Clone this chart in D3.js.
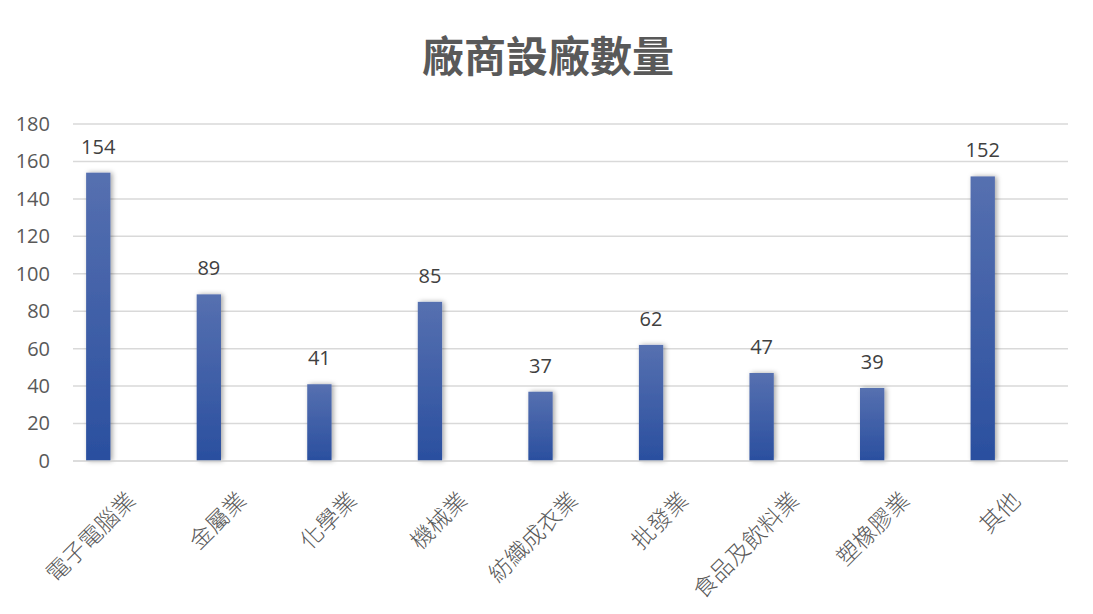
<!DOCTYPE html>
<html>
<head>
<meta charset="utf-8">
<script src="https://cdn.jsdelivr.net/npm/d3@7"></script>
<style>
  body { margin: 0; background: #fff; }
  svg text { font-family: "Open Sans", "Noto Sans CJK TC", sans-serif; }
</style>
</head>
<body>
<script>
// 資料
const industries = ['電子電腦業', '金屬業', '化學業', '機械業', '紡織成衣業', '批發業', '食品及飲料業', '塑橡膠業', '其他'];
const plantCounts = [154, 89, 41, 85, 37, 62, 47, 39, 152];
const yTicks = [0, 20, 40, 60, 80, 100, 120, 140, 160, 180];
const chartTitle = '廠商設廠數量';

const width = 1093, height = 614;
const gridLeft = 73, gridRight = 1068;
const plotTop = 124, plotBottom = 461;

const svg = d3.select('body').append('svg')
  .attr('width', width)
  .attr('height', height);

// 漸層與陰影
const defs = svg.append('defs');
const grad = defs.append('linearGradient')
  .attr('id', 'barGrad')
  .attr('x1', 0).attr('y1', 0).attr('x2', 0).attr('y2', 1);
grad.append('stop').attr('offset', '0%').attr('stop-color', '#5670b0');
grad.append('stop').attr('offset', '100%').attr('stop-color', '#2a4f9f');

const shadow = defs.append('filter')
  .attr('id', 'barShadow')
  .attr('x', '-50%').attr('y', '-10%').attr('width', '200%').attr('height', '120%');
shadow.append('feDropShadow')
  .attr('dx', 2).attr('dy', 0).attr('stdDeviation', 2.5)
  .attr('flood-color', '#000').attr('flood-opacity', 0.35);

// 比例尺
const x = d3.scaleBand()
  .domain(industries)
  .range([43, 1038])
  .paddingInner(0.78)
  .paddingOuter(0.39);

const y = d3.scaleLinear()
  .domain([0, 180])
  .range([plotBottom, plotTop]);

// 標題
svg.append('text')
  .attr('x', 548)
  .attr('y', 72)
  .attr('text-anchor', 'middle')
  .attr('font-size', 42)
  .attr('font-weight', 'bold')
  .attr('fill', '#595959')
  .style('font-family', '"Noto Sans CJK TC", sans-serif')
  .text(chartTitle);

// 格線
svg.append('g')
  .selectAll('line')
  .data(yTicks.filter(d => d > 0))
  .enter()
  .append('line')
  .attr('x1', gridLeft).attr('x2', gridRight)
  .attr('y1', d => y(d)).attr('y2', d => y(d))
  .attr('stroke', '#d9d9d9')
  .attr('stroke-width', 1.5);

// y 軸
const yAxis = d3.axisLeft(y).tickValues(yTicks).tickSize(0).tickPadding(0);
const yA = svg.append('g')
  .attr('transform', 'translate(50,0)')
  .call(yAxis);
yA.select('.domain').remove();
yA.selectAll('text')
  .attr('font-size', 20)
  .attr('fill', '#595959')
  .style('font-family', '"Open Sans", sans-serif');

// 柱子
svg.append('g')
  .selectAll('rect')
  .data(plantCounts)
  .enter()
  .append('rect')
  .attr('x', (d, i) => x(industries[i]))
  .attr('y', d => y(d))
  .attr('width', x.bandwidth())
  .attr('height', d => y(0) - y(d))
  .attr('fill', 'url(#barGrad)')
  .attr('filter', 'url(#barShadow)');

// x 軸底線
svg.append('line')
  .attr('x1', gridLeft).attr('x2', gridRight)
  .attr('y1', y(0)).attr('y2', y(0))
  .attr('stroke', '#d0d0d0')
  .attr('stroke-width', 1.5);

// 數值標籤
svg.append('g')
  .selectAll('text')
  .data(plantCounts)
  .enter()
  .append('text')
  .attr('x', (d, i) => x(industries[i]) + x.bandwidth() / 2)
  .attr('y', d => y(d) - 19)
  .attr('text-anchor', 'middle')
  .attr('font-size', 20)
  .attr('fill', '#404040')
  .text(d => d);

// x 軸標籤
const xAxis = d3.axisBottom(x).tickSize(0).tickPadding(0);
const xA = svg.append('g')
  .attr('transform', 'translate(0,' + plotBottom + ')')
  .call(xAxis);
xA.select('.domain').remove();
xA.selectAll('text')
  .attr('font-size', 23)
  .attr('fill', '#595959')
  .attr('text-anchor', 'end')
  .attr('dy', null)
  .attr('y', 0)
  .attr('dominant-baseline', 'central')
  .attr('transform', 'translate(32,34) rotate(-45)')
  .style('font-family', '"Noto Sans CJK TC", sans-serif')
  .style('font-weight', 300);
</script>
</body>
</html>
